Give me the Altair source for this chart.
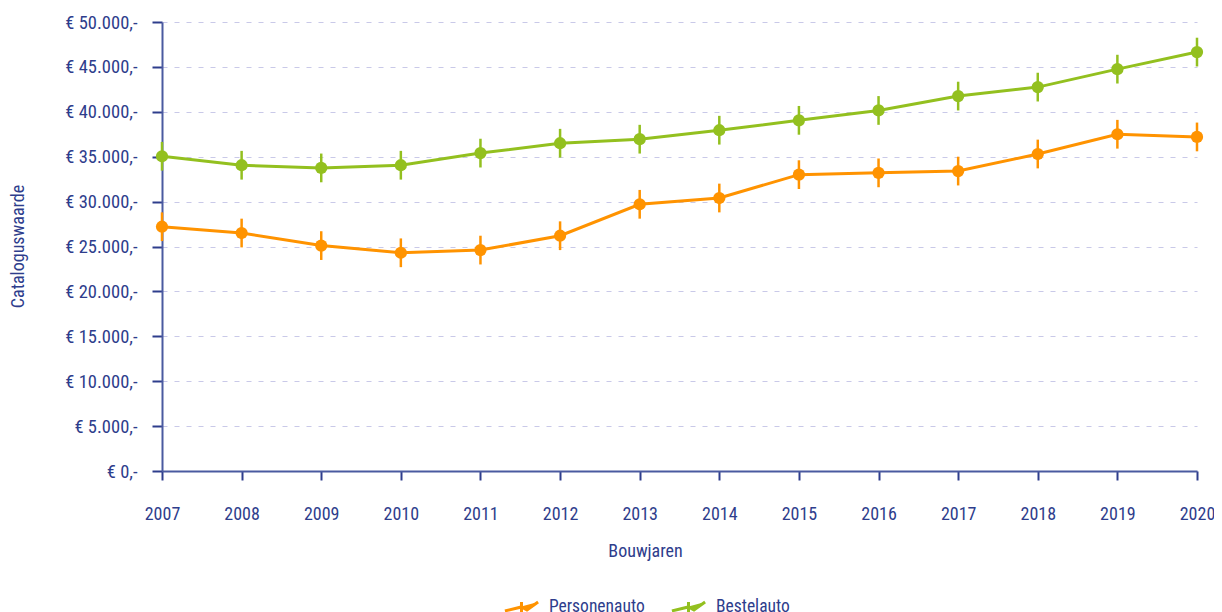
import altair as alt
import pandas as pd

years = list(range(2007, 2021))
personenauto = [27200, 26500, 25100, 24300, 24600, 26200, 29700, 30400, 33000, 33200, 33400, 35300, 37500, 37200]
bestelauto = [35050, 34050, 33750, 34050, 35400, 36500, 36950, 37950, 39050, 40150, 41750, 42750, 44750, 46650]
series_names = ["Personenauto", "Bestelauto"]
series_colors = ["#ff9300", "#93c01f"]
err = 1600

rows = []
for name, vals in zip(series_names, [personenauto, bestelauto]):
    for y, v in zip(years, vals):
        rows.append({"year": y, "value": v, "series": name, "lo": v - err, "hi": v + err})
df = pd.DataFrame(rows)

FONT = "'Liberation Sans Narrow', 'Roboto Condensed', Roboto, sans-serif"
TXT = "#2e3d8c"
AX = "#4a5aa0"

color_scale = alt.Scale(domain=series_names, range=series_colors)

x_enc = alt.X(
    "year:Q",
    scale=alt.Scale(domain=[2007, 2020], nice=False, zero=False),
    axis=alt.Axis(
        values=years, format="d", title="Bouwjaren", grid=False, labelFlush=False,
        tickSize=9, labelPadding=25, titleX=483, titleY=80, titleBaseline="middle",
        titleAnchor="start", titleAlign="center",
    ),
)
y_enc = alt.Y(
    "value:Q",
    scale=alt.Scale(domain=[0, 50000], nice=False),
    axis=alt.Axis(
        values=list(range(0, 50001, 5000)),
        labelExpr="'€ ' + replace(format(datum.value, ','), ',', '.') + ',-'",
        title="Cataloguswaarde", tickSize=10, labelPadding=15, labelFontSize=18.5,
        grid=True, gridDash=[5, 7], gridColor="#c9c9e8", gridWidth=1,
        titleX=-144, titleY=224, titleAngle=-90, titleBaseline="middle",
        titleAlign="center", titleAnchor="start",
    ),
)

symbol_path = "M-1,0.24 L0,0 L0.33,0.18 L1,-0.3 M0,-0.3 L0,0.7"

base = alt.Chart(df)

lines = base.mark_line(strokeWidth=3).encode(
    x=x_enc, y=y_enc,
    color=alt.Color(
        "series:N", scale=color_scale, sort=series_names,
        legend=alt.Legend(
            title=None, orient="none", direction="horizontal",
            legendX=341, legendY=566,
            symbolType=symbol_path, symbolSize=1100, symbolStrokeWidth=3,
            symbolFillColor="transparent",
            labelFont=FONT, labelFontSize=17.5, labelColor=TXT,
            labelOffset=9, columnPadding=20,
        ),
    ),
)
bars = base.mark_rule(strokeWidth=2.5).encode(
    x="year:Q", y="lo:Q", y2="hi:Q",
    color=alt.Color("series:N", scale=color_scale, legend=None),
)
points = base.mark_circle(size=150, opacity=1).encode(
    x="year:Q", y="value:Q",
    color=alt.Color("series:N", scale=color_scale, legend=None),
)

chart = alt.layer(lines, bars, points).properties(
    width=1035, height=449,
    autosize=alt.AutoSizeParams(type="none"),
    padding={"left": 154, "top": 14, "right": 17, "bottom": 141},
).configure_view(stroke=None).configure_axis(
    labelFont=FONT, titleFont=FONT, labelFontSize=18, titleFontSize=18,
    labelColor=TXT, titleColor=TXT, titleFontWeight="normal",
    domainColor=AX, domainWidth=2, tickColor="#2e3d8c", tickWidth=2,
)

chart.save("out.html", embed_options={"renderer": "svg", "actions": False})
